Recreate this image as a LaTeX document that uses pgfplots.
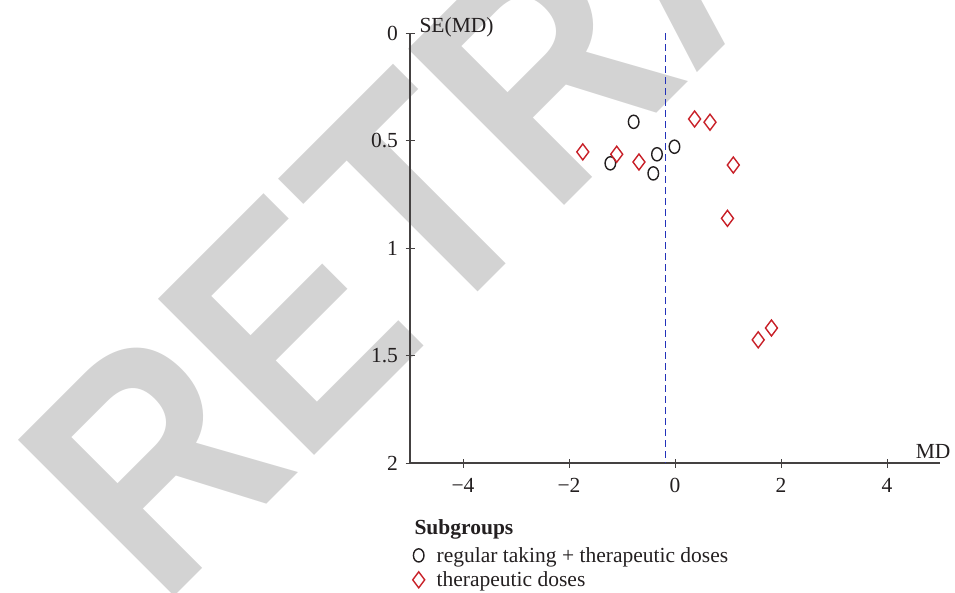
\documentclass[border=0pt]{standalone}
\usepackage{graphicx}
\usepackage{pgfplots}
\pgfplotsset{compat=1.18}
\usepackage{fontspec}
\setmainfont{Liberation Serif}
\newfontfamily\wmfont{Liberation Sans}
\definecolor{wm}{RGB}{211,211,211}
\definecolor{txt}{RGB}{35,31,32}
\definecolor{dred}{RGB}{200,32,40}
\definecolor{medblue}{RGB}{35,50,185}
\begin{document}
\begin{tikzpicture}[x=1pt,y=1pt]
\useasboundingbox (0,0) rectangle (955,592);
\begin{scope}
\clip (0,0) rectangle (955,592);
\node[rotate=45, anchor=base west, inner sep=0pt, outer sep=0pt, text=wm,
      font=\wmfont\bfseries\fontsize{321pt}{321pt}\selectfont] at (161,-17) {\scalebox{0.86}[1]{RETRACTED}};
\end{scope}
\begin{axis}[
  at={(410pt,129pt)}, anchor=south west,
  width=530pt, height=430pt, scale only axis,
  xmin=-5, xmax=5, ymin=0, ymax=2, y dir=reverse,
  axis x line*=bottom, axis y line*=left,
  axis line style={-, line width=1.2pt, color=txt!85},
  xtick={-4,-2,0,2,4}, xticklabels={−4,−2,0,2,4},
  ytick={0,0.5,1,1.5,2}, yticklabels={0,0.5,1,1.5,2},
  tick align=center, major tick length=9pt,
  tick style={line width=1pt, color=txt!85},
  ticklabel style={font=\fontsize{21.5pt}{25pt}\selectfont, text=txt},
  xticklabel style={yshift=-7pt},
  yticklabel style={xshift=-4pt},
  clip=false,
  legend cell align=left,
  legend style={at={(0.0047,-0.193)}, anchor=north west, draw=none, fill=none,
    inner sep=0pt, row sep=6pt, column sep=11pt,
    font=\fontsize{21.5pt}{25pt}\selectfont, text=txt, nodes={inner sep=1pt}},
]
\addplot[medblue, solid, line width=1.9pt, dash pattern=on 7pt off 4pt, mark=none, forget plot]
  coordinates {(-0.18,0) (-0.18,2)};
\addplot[only marks, mark=o, mark size=6.6pt,
  mark options={xscale=0.8, line width=1.4pt, draw=txt}]
  coordinates {(-0.78,0.413) (-1.22,0.606) (-0.34,0.564) (-0.41,0.653) (-0.01,0.529)};
\addlegendentry{regular taking + therapeutic doses}
\addplot[only marks, mark=diamond, mark size=8pt,
  mark options={line width=1.4pt, draw=dred}]
  coordinates {(-1.74,0.553) (-1.10,0.564) (-0.68,0.600) (0.37,0.400) (0.66,0.415)
               (1.10,0.614) (0.99,0.862) (1.82,1.372) (1.57,1.427)};
\addlegendentry{therapeutic doses}
\node[anchor=base west, xshift=6pt, yshift=1pt, text=txt,
      font=\fontsize{21.5pt}{25pt}\selectfont] at (axis cs:-5,0) {SE(MD)};
\node[anchor=base east, xshift=14pt, yshift=5pt, text=txt,
      font=\fontsize{21.5pt}{25pt}\selectfont] at (axis cs:5,2) {MD};
\end{axis}
\node[anchor=base west, text=txt, font=\bfseries\fontsize{21.5pt}{25pt}\selectfont]
  at (411,58) {Subgroups};
\end{tikzpicture}
\end{document}
